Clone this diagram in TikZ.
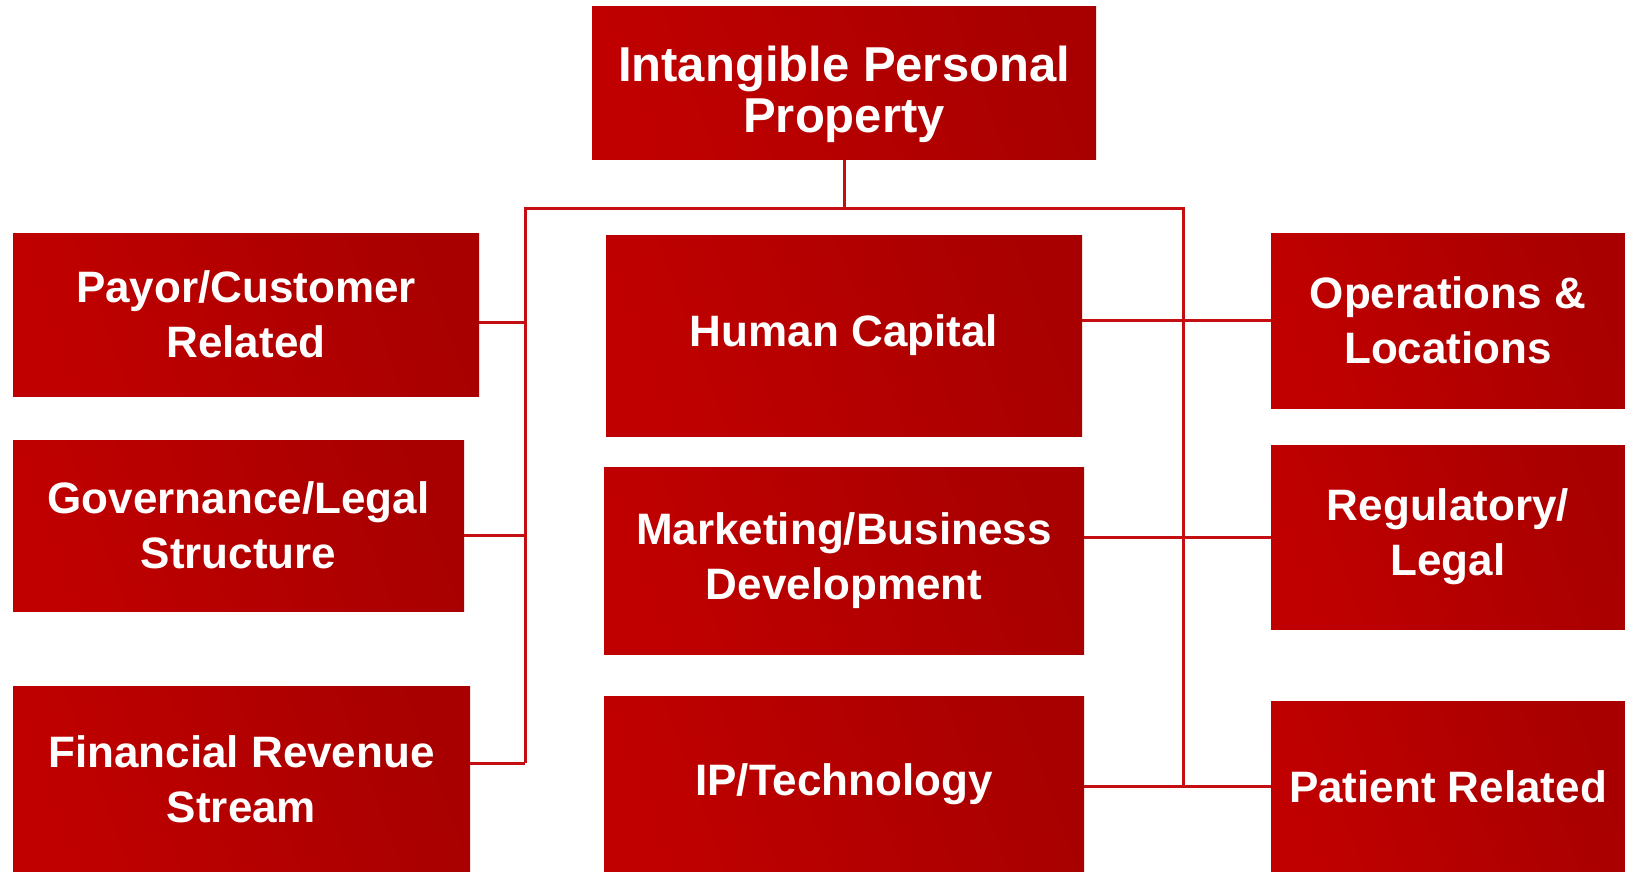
\documentclass[tikz,border=0pt]{standalone}
\usepackage{fontspec}
\setmainfont{Liberation Sans}

\definecolor{boxlight}{RGB}{192,0,0}
\definecolor{boxdark}{RGB}{168,0,0}
\definecolor{linkred}{RGB}{196,14,18}

\tikzset{
  box/.style={rectangle, inner sep=0pt, left color=boxlight, right color=boxdark,
    shading angle=110, text=white, align=center,
    font=\bfseries\fontsize{44}{55}\selectfont},
  link/.style={draw=linkred, line width=3pt}
}

\begin{document}
\begin{tikzpicture}[x=1pt,y=-1pt]
        \useasboundingbox (0,0) rectangle (1625,872);

        % top
        \node[box, minimum width=504pt, minimum height=153pt] (root) at (844,83.5) {};
        \node[text=white, align=center, inner sep=0pt,
              font=\bfseries\fontsize{49}{51}\selectfont] (rootlabel) at ([yshift=-11pt]root.center) {Intangible Personal\\Property};

        % left column
        \node[box, minimum width=466pt, minimum height=163pt] (payor) at (246,314.5) {Payor/Customer\\Related};
        \node[box, minimum width=451pt, minimum height=171pt] (gov) at (238.5,525.5) {Governance/Legal\\Structure};
        \node[box, minimum width=457pt, minimum height=186pt] (fin) at (241.5,779) {Financial Revenue\\Stream};

        % middle column
        \node[box, minimum width=476pt, minimum height=201pt] (human) at (844,335.5) {Human Capital};
        \node[box, minimum width=480pt, minimum height=187pt] (mkt) at (844,560.5) {Marketing/Business\\Development};
        \node[box, minimum width=480pt, minimum height=176pt] (iptech) at (844,784) {IP/Technology};

        % right column
        \node[box, minimum width=354pt, minimum height=175pt] (ops) at (1448,320.5) {Operations \&\\Locations};
        \node[box, minimum width=354pt, minimum height=184pt] (reg) at (1448,537) {Regulatory/\\Legal};
        \node[box, minimum width=354pt, minimum height=171pt] (patient) at (1448,786.5) {Patient Related};

        % bus
        \coordinate (lbus) at (525,208);
        \coordinate (rbus) at (1183,208);
        \coordinate (payend) at ([yshift=-8pt]payor.east);
        \coordinate (govend) at ([yshift=-10pt]gov.east);
        \coordinate (finend) at ([yshift=16pt]fin.east);

        \draw[link] (root.south) -- (root.south |- lbus);
        \draw[link] (lbus |- finend) -- (lbus) -- (rbus) -- (rbus |- patient.west);

        \draw[link] (payend) -- (payend -| lbus);
        \draw[link] (govend) -- (govend -| lbus);
        \draw[link] (finend) -- (finend -| lbus);

        \draw[link] (ops.west) -- (ops.west -| human.east);
        \draw[link] (reg.west) -- (reg.west -| mkt.east);
        \draw[link] (patient.west) -- (patient.west -| iptech.east);
\end{tikzpicture}
\end{document}
